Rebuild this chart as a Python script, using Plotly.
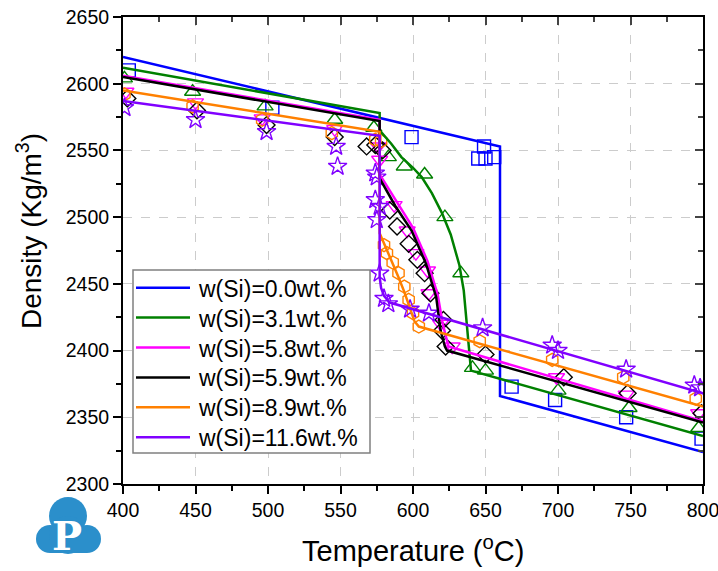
import plotly.graph_objects as go

# ---------------- data ----------------
labels = ["w(Si)=0.0wt.%", "w(Si)=3.1wt.%", "w(Si)=5.8wt.%",
          "w(Si)=5.9wt.%", "w(Si)=8.9wt.%", "w(Si)=11.6wt.%"]
colors = ["#0000FF", "#008000", "#FF00FF", "#000000", "#FF8000", "#8000FF"]
symbols = ["square-open", "triangle-up-open", "triangle-down-open",
           "diamond-open", "hexagon-open", "star-open"]
msizes = [13, 14, 14, 13, 13, 14]

# model curves
line0_x = [400, 660, 660, 800]
line0_y = [2620, 2553, 2366, 2324]
line1_x = [400, 577, 577, 585, 592, 600, 606, 613, 620, 626, 632, 635, 637.5, 640, 800]
line1_y = [2612, 2578, 2565, 2555, 2545, 2537, 2530, 2518, 2503, 2487, 2464, 2445, 2415, 2385, 2336]
line2_x = [400, 577, 577, 589, 600, 610, 617, 620.5, 624.5, 800]
line2_y = [2606, 2573, 2532, 2511, 2492, 2467, 2442, 2420, 2403, 2347]
line3_x = [400, 577, 577, 588, 599, 609, 616, 619, 622, 623.5, 800]
line3_y = [2605, 2572, 2529, 2508, 2490, 2465, 2440, 2415, 2403, 2400, 2346]
line4_x = [400, 577, 577, 581, 586, 590, 594, 598, 601, 604, 800]
line4_y = [2595, 2564, 2488, 2478, 2466, 2455, 2444, 2432, 2422, 2418, 2358]
line5_x = [400, 577, 577, 578, 580, 584, 800]
line5_y = [2587, 2561, 2455, 2447, 2441, 2436, 2368]

# experimental points
pts0_x = [404, 503, 599, 645, 649, 650, 656, 668, 698, 747, 799]
pts0_y = [2610, 2582, 2560, 2544, 2553, 2544, 2545, 2373, 2363, 2350, 2334]
pts1_x = [401, 448, 498, 546, 573, 583, 594, 608, 622, 633, 641, 650, 700, 749, 797]
pts1_y = [2604, 2594, 2583, 2573, 2567, 2545, 2538, 2532, 2500, 2458, 2387, 2385, 2370, 2357, 2342]
pts2_x = [402, 450, 496, 546, 576, 577, 587, 596, 602, 610, 611, 619, 627, 699, 747, 797]
pts2_y = [2594, 2586, 2574, 2566, 2553, 2543, 2509, 2490, 2473, 2460, 2443, 2420, 2403, 2380, 2367, 2353]
pts3_x = [403, 451, 499, 546, 568, 574, 579, 584, 589, 597, 603, 608, 612, 620, 621, 622.5, 650, 704, 748, 799]
pts3_y = [2589, 2580, 2569, 2560, 2553, 2554, 2550, 2505, 2493, 2480, 2468, 2458, 2443, 2415, 2423, 2403, 2397, 2380, 2368, 2353]
pts4_x = [401, 448, 496, 544, 574, 578, 580, 582, 586, 590, 594, 597, 600, 604, 646, 696, 745, 795]
pts4_y = [2592, 2583, 2573, 2563, 2558, 2557, 2479, 2473, 2466, 2458, 2448, 2438, 2428, 2418, 2407, 2393, 2380, 2364]
pts5_x = [401, 450, 499, 547, 548, 574, 575, 574, 577, 575, 577, 580, 583, 598, 611, 648, 696, 700, 747, 794, 798]
pts5_y = [2582, 2573, 2564, 2553, 2538, 2533, 2530, 2513, 2508, 2498, 2458, 2439, 2435, 2431, 2428, 2417, 2404, 2400, 2386, 2374, 2372]

x_ticks = [400, 450, 500, 550, 600, 650, 700, 750, 800]
y_ticks = [2300, 2350, 2400, 2450, 2500, 2550, 2600, 2650]
x_title = "Temperature (<sup>o</sup>C)"
y_title = "Density (Kg/m<sup>3</sup>)"

lines_x = [line0_x, line1_x, line2_x, line3_x, line4_x, line5_x]
lines_y = [line0_y, line1_y, line2_y, line3_y, line4_y, line5_y]
pts_x = [pts0_x, pts1_x, pts2_x, pts3_x, pts4_x, pts5_x]
pts_y = [pts0_y, pts1_y, pts2_y, pts3_y, pts4_y, pts5_y]

FONT = "Liberation Sans, Arial, sans-serif"
W, H = 718, 571
L, R, T, B = 123, 15, 17, 87
pw, ph = W - L - R, H - T - B


def px2p(px, py):
    """pixel position in the page -> paper coordinates"""
    return (px - L) / pw, (H - B - py) / ph


fig = go.Figure()

for i in range(6):
    fig.add_trace(go.Scatter(
        x=pts_x[i], y=pts_y[i], mode="markers", showlegend=False,
        marker=dict(symbol=symbols[i], size=msizes[i], color=colors[i],
                    line=dict(width=1.4, color=colors[i]))))

for i in range(6):
    fig.add_trace(go.Scatter(
        x=lines_x[i], y=lines_y[i], mode="lines", name=labels[i],
        showlegend=False, line=dict(color=colors[i], width=2.5)))

# dummy trace for mirrored (inside-tick) axes
fig.add_trace(go.Scatter(x=[400], y=[2300], xaxis="x2", yaxis="y2",
                         mode="markers", marker=dict(opacity=0),
                         showlegend=False, hoverinfo="skip"))

axis_common = dict(showline=True, linecolor="black", linewidth=2,
                   ticks="outside", ticklen=8, tickwidth=2, tickcolor="black",
                   showgrid=True, gridcolor="#cccccc", griddash="dash", gridwidth=1,
                   zeroline=False, automargin=False, ticklabeloverflow="allow",
                   tickfont=dict(family=FONT, size=19.5, color="black"))

fig.update_layout(
    width=W, height=H,
    margin=dict(l=L, r=R, t=T, b=B, autoexpand=False),
    paper_bgcolor="white", plot_bgcolor="white",
    font=dict(family=FONT, color="black"),
    showlegend=False,
    xaxis=dict(range=[400, 800], tickvals=x_ticks,
               minor=dict(dtick=25, ticks="outside", ticklen=5, tickwidth=2,
                          tickcolor="black", showgrid=False),
               **axis_common),
    yaxis=dict(range=[2300, 2650], tickvals=y_ticks,
               minor=dict(dtick=25, ticks="outside", ticklen=5, tickwidth=2,
                          tickcolor="black", showgrid=False),
               **axis_common),
    xaxis2=dict(range=[400, 800], overlaying="x", side="top", showline=True,
                linecolor="black", linewidth=2, ticks="inside", ticklen=8,
                tickwidth=2, tickvals=x_ticks, showticklabels=False,
                showgrid=False, zeroline=False, automargin=False,
                minor=dict(dtick=25, ticks="inside", ticklen=5, tickwidth=2)),
    yaxis2=dict(range=[2300, 2650], overlaying="y", side="right", showline=True,
                linecolor="black", linewidth=2, ticks="inside", ticklen=8,
                tickwidth=2, tickvals=y_ticks, showticklabels=False,
                showgrid=False, zeroline=False, automargin=False,
                minor=dict(dtick=25, ticks="inside", ticklen=5, tickwidth=2)),
)

# axis titles
ax, ay = px2p(413, 549)
fig.add_annotation(x=ax, y=ay, xref="paper", yref="paper", text=x_title,
                   showarrow=False, font=dict(family=FONT, size=29, color="black"),
                   xanchor="center", yanchor="middle")
ax, ay = px2p(29, 231)
fig.add_annotation(x=ax, y=ay, xref="paper", yref="paper", text=y_title,
                   textangle=-90, showarrow=False,
                   font=dict(family=FONT, size=28, color="black"),
                   xanchor="center", yanchor="middle")

# ---- hand-drawn legend box (lines only, like the reference) ----
x0, y0 = px2p(133, 453)
x1, y1 = px2p(370, 270)
fig.add_shape(type="rect", xref="paper", yref="paper", x0=x0, y0=y0, x1=x1, y1=y1,
              fillcolor="white", line=dict(color="#808080", width=1.5), layer="above")
for i in range(6):
    ry = 287.7 + i * 29.9
    a0, b0 = px2p(136, ry)
    a1, _ = px2p(190, ry)
    fig.add_shape(type="line", xref="paper", yref="paper", x0=a0, y0=b0, x1=a1, y1=b0,
                  line=dict(color=colors[i], width=2.5), layer="above")
    tx, ty = px2p(196, ry + 1)
    fig.add_annotation(x=tx, y=ty, xref="paper", yref="paper", text=labels[i],
                       showarrow=False, font=dict(family=FONT, size=23, color="black"),
                       xanchor="left", yanchor="middle")

# ---- logo (blue cloud with white P) ----
logo_color = "#2b8fcb"
for cx, cy, r in [(68, 516, 19), (50, 539, 14), (87, 539, 14), (68, 535, 19)]:
    x0, y0 = px2p(cx - r, cy + r)
    x1, y1 = px2p(cx + r, cy - r)
    fig.add_shape(type="circle", xref="paper", yref="paper",
                  x0=x0, y0=y0, x1=x1, y1=y1,
                  fillcolor=logo_color, line=dict(width=0), layer="above")
x0, y0 = px2p(50, 553)
x1, y1 = px2p(87, 532)
fig.add_shape(type="rect", xref="paper", yref="paper", x0=x0, y0=y0, x1=x1, y1=y1,
              fillcolor=logo_color, line=dict(width=0), layer="above")
lx, ly = px2p(67, 535)
fig.add_annotation(x=lx, y=ly, xref="paper", yref="paper", text="<b>P</b>",
                   showarrow=False, font=dict(family="DejaVu Serif", size=40, color="white"),
                   xanchor="center", yanchor="middle")

fig.write_html(
    "out.html",
    config={"displayModeBar": False},
    post_script="document.body.style.margin='0';document.body.style.overflow='hidden';",
)
